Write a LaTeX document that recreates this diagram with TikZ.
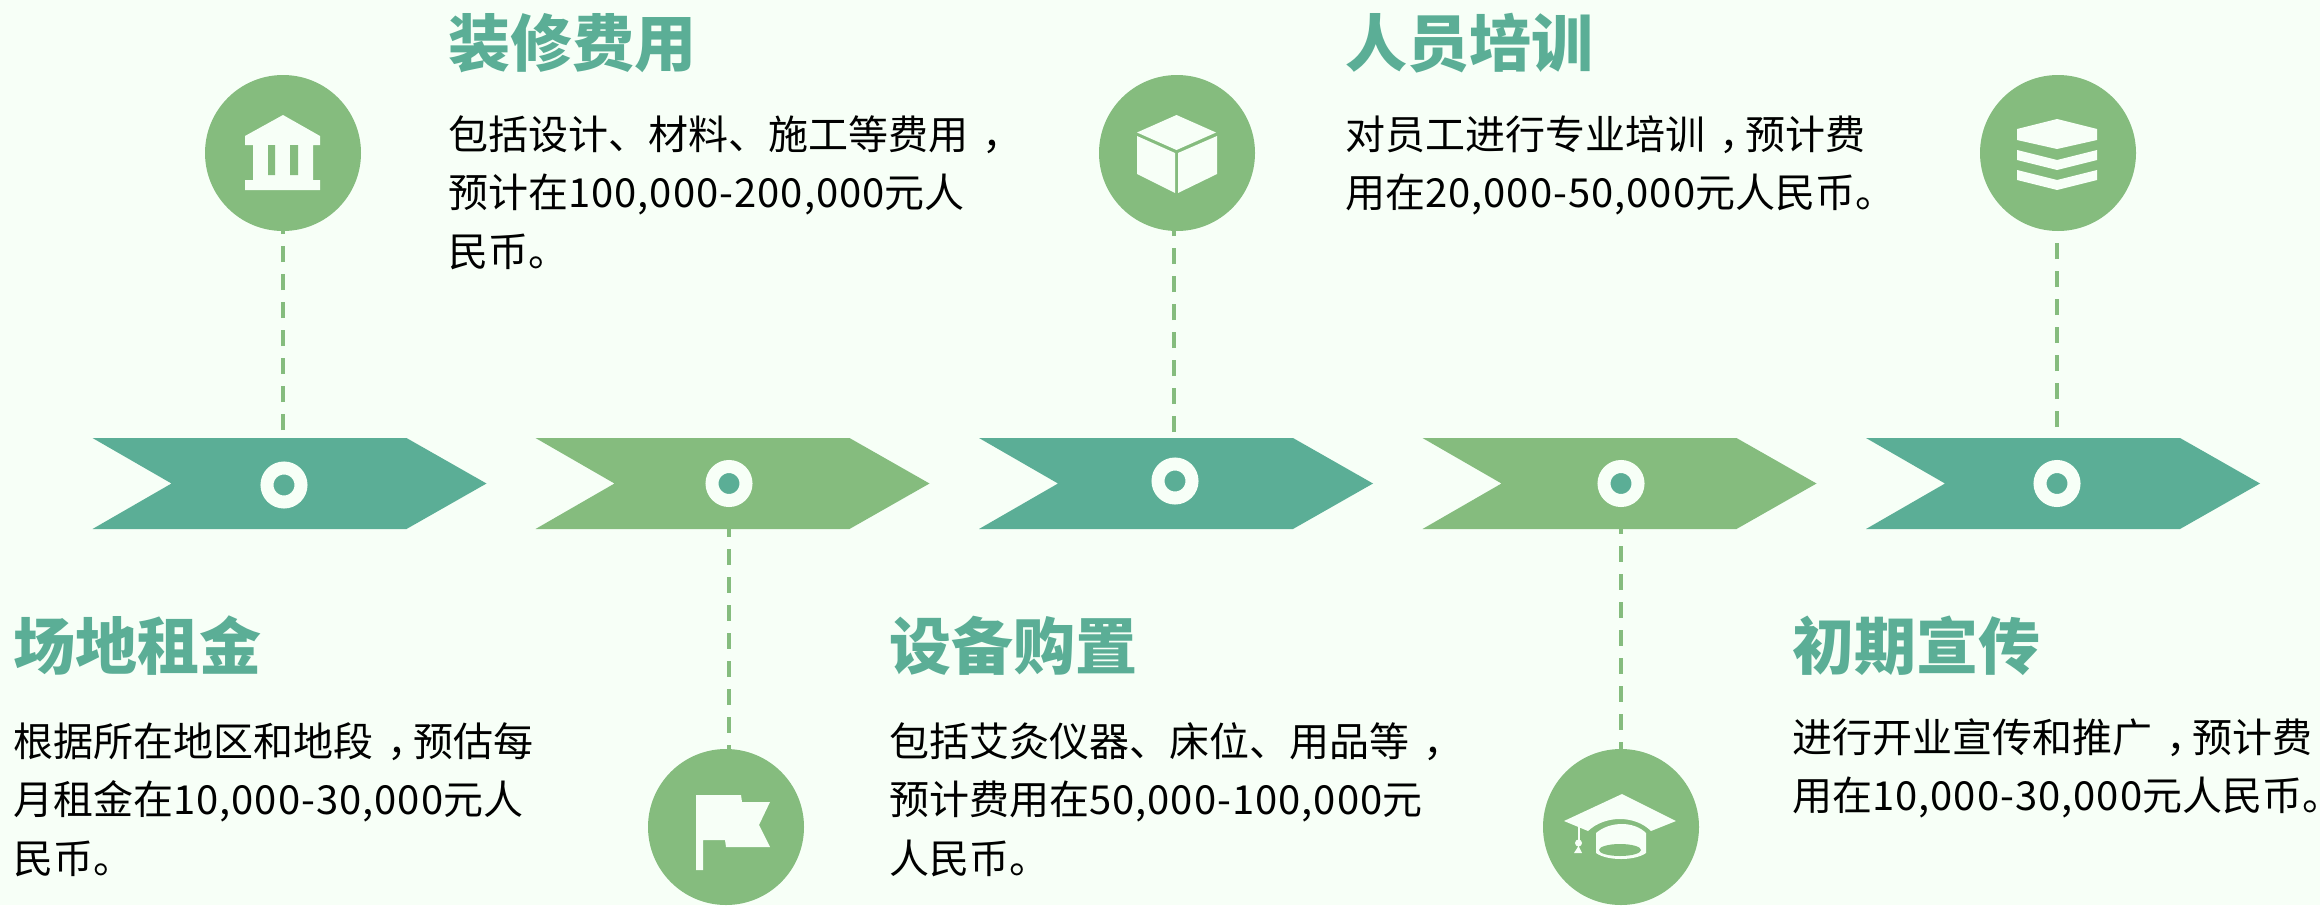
\documentclass[tikz,border=0pt]{standalone}
\usepackage{fontspec}
\setmainfont{Noto Sans CJK SC}
\usetikzlibrary{positioning}
\definecolor{bgmint}{HTML}{F7FFF7}
\definecolor{leaf}{HTML}{85BC7E}
\definecolor{teal}{HTML}{5BAE96}
\tikzset{x=1pt,y=-1pt}
\tikzset{badge/.style={circle,fill=leaf,minimum size=156pt,inner sep=0pt,text=bgmint}}
\tikzset{ring/.style={circle,draw=bgmint,fill=teal,line width=13pt,minimum size=34pt,inner sep=0pt}}
\tikzset{stem/.style={draw=leaf,line width=4pt,dash pattern=on 16pt off 12pt}}
\tikzset{headline/.style={anchor=north west,inner sep=0pt,text=teal,font=\fontsize{62pt}{62pt}\selectfont\bfseries}}
\tikzset{blurb/.style={anchor=north west,inner sep=0pt,align=left,text=black,font=\fontsize{40pt}{58.5pt}\selectfont}}
\newcommand{\arrowshape}[2]{% x offset, fill
	\fill[#2] (#1,438) -- (#1+314,438) -- (#1+394,483.5) -- (#1+314,529) -- (#1,529) -- (#1+79,483.5) -- cycle;
}
\newcommand{\midcomma}{\hspace*{.35em}，\hspace*{-.35em}}
\newcommand{\amount}[1]{{\addfontfeatures{LetterSpace=2.5}#1}}
\begin{document}
\begin{tikzpicture}
	\useasboundingbox (0,0) rectangle (2320,905);
	\fill[bgmint] (0,0) rectangle (2320,905);
	% arrows
	\arrowshape{92.5}{teal}
	\arrowshape{535.5}{leaf}
	\arrowshape{979}{teal}
	\arrowshape{1422.5}{leaf}
	\arrowshape{1866}{teal}
	\node[ring] (ringa) at (284,485) {};
	\node[ring] (ringb) at (729,483.5) {};
	\node[ring] (ringc) at (1175,481) {};
	\node[ring] (ringd) at (1621,483.5) {};
	\node[ring] (ringe) at (2057,483.5) {};
	% badges
	\node[badge] (bank) at (283,153) {};
	\node[badge] (cube) at (1177,153) {};
	\node[badge] (layers) at (2058,153) {};
	\node[badge] (flag) at (726,827) {};
	\node[badge] (cap) at (1621,827) {};
	\coordinate (enda) at (283,438);
	\coordinate (endc) at (1174,438);
	\coordinate (ende) at (2057,438);
	\coordinate (endb) at (729,529);
	\coordinate (endd) at (1621,529);
	\draw[stem,dash phase=20pt] (enda) -- (bank.south -| enda);
	\draw[stem,dash phase=22pt] (endc) -- (cube.south -| endc);
	\draw[stem,dash phase=17pt] (ende) -- (layers.south -| ende);
	\draw[stem,dash phase=8pt] (endb) -- (flag.north -| endb);
	\draw[stem,dash phase=11pt] (endd) -- (cap.north);
	% bank icon
	\fill[bgmint] (283,115) -- (320,136) -- (320,145) -- (313,145) -- (313,180) -- (320,180) -- (320,190) -- (245,190) -- (245,180) -- (253,180) -- (253,145) -- (245,145) -- (245,136) -- cycle;
	\fill[leaf] (268,145) rectangle (275,175) (290,145) rectangle (298,175);
	% cube icon
	\fill[bgmint] (1176.5,115) -- (1216,132.5) -- (1176.5,150) -- (1137,132.5) -- cycle;
	\fill[bgmint] (1137,136) -- (1175,153) -- (1175,193) -- (1137,174) -- cycle;
	\fill[bgmint] (1217,136) -- (1178,153) -- (1178,193) -- (1217,174) -- cycle;
	% layers icon
	\fill[bgmint] (2057,119) -- (2097,129) -- (2097,140) -- (2057,149) -- (2017,140) -- (2017,129) -- cycle;
	\fill[bgmint] (2017,150) -- (2057,160) -- (2097,150) -- (2097,160) -- (2057,170) -- (2017,160) -- cycle;
	\fill[bgmint] (2017,170) -- (2057,180) -- (2097,170) -- (2097,180) -- (2057,190) -- (2017,180) -- cycle;
	% flag icon
	\fill[bgmint] (696,795) -- (741,795) -- (742,802) -- (770,802) -- (759,825) -- (770,847) -- (726,847) -- (725,840) -- (703,840) -- (703,870) -- (696,870) -- cycle;
	% cap icon
	\fill[bgmint] (1622,794) -- (1676,821) -- (1651,831) .. controls (1635,815) and (1605,815) .. (1588,831) -- (1564,821) -- cycle;
	\fill[bgmint] (1596,833) .. controls (1610,821) and (1634,821) .. (1646,833) -- (1646,853) .. controls (1635,861) and (1607,861) .. (1596,853) -- cycle;
	\fill[leaf] (1620,850) ellipse [x radius=21pt,y radius=6pt];
	\draw[bgmint,line width=1.5pt] (1579,825) -- (1579,845);
	\fill[bgmint] (1578.5,843) circle (3.5pt) (1578.5,846) -- (1574,853) -- (1582,853) -- cycle;
	% texts
	\node[headline] (heada) at (13,616) {场地租金};
	\node[blurb] (texta) at (13,722) {根据所在地区和地段\midcomma 预估每\\月租金在\amount{10,000-30,000}元人\\民币。};
	\node[headline] (headb) at (448,13) {装修费用};
	\node[blurb] (textb) at (448,115) {包括设计、材料、施工等费用\midcomma\\预计在\amount{100,000-200,000}元人\\民币。};
	\node[headline] (headc) at (889,616) {设备购置};
	\node[blurb] (textc) at (889,722) {包括艾灸仪器、床位、用品等\midcomma\\预计费用在\amount{50,000-100,000}元\\人民币。};
	\node[headline] (headd) at (1345,13) {人员培训};
	\node[blurb] (textd) at (1345,115) {对员工进行专业培训\midcomma 预计费\\用在\amount{20,000-50,000}元人民币。};
	\node[headline] (heade) at (1792,616) {初期宣传};
	\node[blurb] (texte) at (1792,718) {进行开业宣传和推广\midcomma 预计费\\用在\amount{10,000-30,000}元人民币\makebox[.4em][l]{。}};
\end{tikzpicture}
\end{document}
